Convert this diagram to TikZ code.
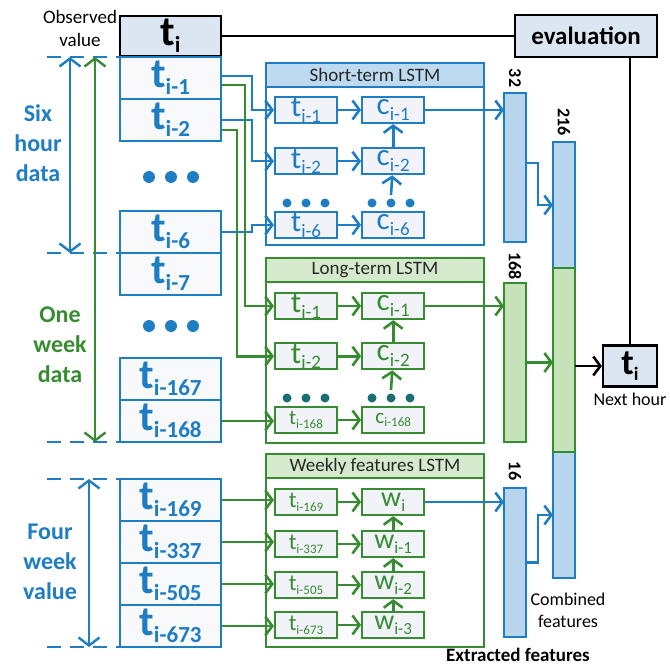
\documentclass[tikz,border=0pt]{standalone}
\usepackage{fontspec}
\setmainfont{Carlito}
\usepackage{tikz}
\usetikzlibrary{arrows.meta, positioning, calc}

\definecolor{cblue}{RGB}{30,125,195}
\definecolor{cgreen}{RGB}{55,140,50}
\definecolor{cteal}{RGB}{25,110,115}
\definecolor{bfill}{RGB}{183,214,238}
\definecolor{gfill}{RGB}{198,226,185}
\definecolor{hblue}{RGB}{189,218,241}
\definecolor{hgreen}{RGB}{213,234,205}
\definecolor{tfill}{RGB}{220,230,242}
\definecolor{cfill}{RGB}{241,243,248}

% letter with a large lowered index
\newcommand{\stx}[4]{{\fontsize{#1}{#1}\selectfont #3}{\fontsize{#2}{#2}\selectfont\raisebox{-0.3em}{#4}}}

\begin{document}
\begin{tikzpicture}[x=1pt, y=-1pt,
    inbox/.style={draw=cblue, line width=2pt, fill=cfill!50, minimum width=101pt, minimum height=42pt, inner sep=0pt, outer sep=0pt, text=cblue, font=\bfseries},
    obsbox/.style={draw=black, line width=2.2pt, fill=tfill, inner sep=0pt, font=\bfseries},
    lstm/.style={draw=#1, line width=2.2pt, fill=white, minimum width=218pt, inner sep=0pt, outer sep=0pt},
    head/.style={draw=#1, line width=2.2pt, minimum width=218pt, minimum height=24pt, inner sep=0pt, outer sep=0pt, anchor=north, text=black!85, font=\fontsize{19}{19}\selectfont},
    cell/.style={draw=#1, line width=2.2pt, fill=cfill, minimum width=62pt, minimum height=26pt, inner sep=0pt, text=#1},
    bar/.style={draw=cblue, line width=2.2pt, fill=bfill, minimum width=22pt, inner sep=0pt, outer sep=0pt},
    num/.style={rotate=-90, font=\fontsize{18}{18}\selectfont\bfseries},
    side/.style={align=center, font=\fontsize{24}{30}\selectfont\bfseries},
    note/.style={align=center, font=\fontsize{18}{22}\selectfont},
    dline/.style={draw=cblue, line width=2.2pt, dash pattern=on 14pt off 9pt},
    barr/.style={draw=cblue, line width=2.6pt, -{Straight Barb[length=7pt,width=19pt]}},
    garr/.style={draw=cgreen, line width=2.6pt, -{Straight Barb[length=7pt,width=19pt]}},
    karr/.style={draw=black, line width=2.6pt, -{Straight Barb[length=7pt,width=19pt]}},
    darr/.style={line width=2.4pt, {Straight Barb[length=8pt,width=21pt]}-{Straight Barb[length=8pt,width=21pt]}}
]
\useasboundingbox (0,0) rectangle (670,666);

% observed value and evaluation
\node[obsbox, minimum width=101pt, minimum height=40pt] (obs) at (170.5,36) {\stx{42}{23}{t}{i}};
\node[note, font=\fontsize{19}{23}\selectfont] (obslab) at (80,28) {Observed\\value};
\node[obsbox, minimum width=142pt, minimum height=42pt, font=\fontsize{25}{25}\selectfont\bfseries] (eval) at (586,36) {evaluation};

% input column
\node[inbox] (in1) at (170.5,78) {\stx{42}{23}{t}{i-1}};
\node[inbox, below=0pt of in1] (in2) {\stx{42}{23}{t}{i-2}};
\node[inbox] (in6) at (170.5,232) {\stx{42}{23}{t}{i-6}};
\node[inbox, below=0pt of in6] (in7) {\stx{42}{23}{t}{i-7}};
\node[inbox] (in167) at (170.5,379) {\stx{42}{23}{t}{i-167}};
\node[inbox, below=0pt of in167] (in168) {\stx{42}{23}{t}{i-168}};
\node[inbox] (in169) at (170.5,500) {\stx{42}{23}{t}{i-169}};
\node[inbox, below=0pt of in169] (in337) {\stx{42}{23}{t}{i-337}};
\node[inbox, below=0pt of in337] (in505) {\stx{42}{23}{t}{i-505}};
\node[inbox, below=0pt of in505] (in673) {\stx{42}{23}{t}{i-673}};
\fill[cblue] (149,177) circle (6pt) (171,177) circle (6pt) (193,177) circle (6pt);
\fill[cblue] (149,326) circle (6pt) (171,326) circle (6pt) (193,326) circle (6pt);

% ranges on the left
\node[side, text=cblue] (six) at (38,143) {Six\\hour\\data};
\node[side, text=cgreen] (week) at (60,345) {One\\week\\data};
\node[side, text=cblue] (four) at (50,562) {Four\\week\\value};
\coordinate (d1) at (47,57);
\coordinate (d2) at (47,253);
\coordinate (d3) at (47,442);
\coordinate (d4) at (47,479);
\coordinate (d5) at (47,647);
\draw[dline] (d1) -- (in1.north west);
\draw[dline] (d2) -- (in6.south west);
\draw[dline] (d3) -- (in168.south west);
\draw[dline] (d4) -- (in169.north west);
\draw[dline] (d5) -- (in673.south west);
\coordinate (six1) at (70,57);
\coordinate (six2) at (70,253);
\coordinate (wk1) at (95,57);
\coordinate (wk2) at (95,442);
\coordinate (fw1) at (89,479);
\coordinate (fw2) at (89,647);
\draw[darr, draw=cblue] (six1) -- (six2);
\draw[darr, draw=cgreen] (wk1) -- (wk2);
\draw[darr, draw=cblue] (fw1) -- (fw2);

% Short-term LSTM
\node[lstm=cblue, minimum height=182pt] (stm) at (375,154) {};
\node[head=cblue, fill=hblue] (stmh) at (stm.north) {Short-term LSTM};
\node[cell=cblue] (st1) at (306,110) {\stx{31}{19}{t}{i-1}};
\node[cell=cblue, right=23pt of st1] (sc1) {\stx{31}{19}{c}{i-1}};
\node[cell=cblue, below=23pt of st1] (st2) {\stx{31}{19}{t}{i-2}};
\node[cell=cblue, right=23pt of st2] (sc2) {\stx{31}{19}{c}{i-2}};
\node[cell=cblue] (st6) at (306,225) {\stx{31}{19}{t}{i-6}};
\node[cell=cblue, right=23pt of st6] (sc6) {\stx{31}{19}{c}{i-6}};
\fill[cblue] (287,203) circle (4.5pt) (306,203) circle (4.5pt) (325,203) circle (4.5pt);
\fill[cblue] (372,203) circle (4.5pt) (391,203) circle (4.5pt) (410,203) circle (4.5pt);
\coordinate (sdots) at (391,195);

% Long-term LSTM
\node[lstm=cgreen, minimum height=185pt] (ltm) at (375,350.5) {};
\node[head=cgreen, fill=hgreen] (ltmh) at (ltm.north) {Long-term LSTM};
\node[cell=cgreen] (lt1) at (306,306) {\stx{31}{19}{t}{i-1}};
\node[cell=cgreen, right=23pt of lt1] (lc1) {\stx{31}{19}{c}{i-1}};
\node[cell=cgreen, below=22pt of lt1] (lt2) {\stx{31}{19}{t}{i-2}};
\node[cell=cgreen, right=23pt of lt2] (lc2) {\stx{31}{19}{c}{i-2}};
\node[cell=cgreen] (lt168) at (306,420) {\stx{21}{13}{t}{i-168}};
\node[cell=cgreen, right=23pt of lt168] (lc168) {\stx{21}{13}{c}{i-168}};
\fill[cteal] (287,398) circle (4.5pt) (306,398) circle (4.5pt) (325,398) circle (4.5pt);
\fill[cteal] (372,398) circle (4.5pt) (391,398) circle (4.5pt) (410,398) circle (4.5pt);
\coordinate (ldots) at (391,390);

% Weekly features LSTM
\node[lstm=cgreen, minimum height=193pt] (wtm) at (375,550.5) {};
\node[head=cgreen, fill=hgreen] (wtmh) at (wtm.north) {Weekly features LSTM};
\node[cell=cgreen] (wt169) at (306,502) {\stx{23}{13}{t}{i-169}};
\node[cell=cgreen, right=23pt of wt169] (ww0) {\stx{28}{17}{w}{i}};
\node[cell=cgreen] (wt337) at (306,544) {\stx{23}{13}{t}{i-337}};
\node[cell=cgreen, right=23pt of wt337] (ww1) {\stx{28}{17}{w}{i-1}};
\node[cell=cgreen] (wt505) at (306,585) {\stx{23}{13}{t}{i-505}};
\node[cell=cgreen, right=23pt of wt505] (ww2) {\stx{28}{17}{w}{i-2}};
\node[cell=cgreen] (wt673) at (306,625) {\stx{23}{13}{t}{i-673}};
\node[cell=cgreen, right=23pt of wt673] (ww3) {\stx{28}{17}{w}{i-3}};

% extracted and combined features
\node[bar, minimum height=149pt] (b32) at (515,167.5) {};
\node[bar, draw=cgreen, fill=gfill, minimum height=159pt] (b168) at (515,362.5) {};
\node[bar, minimum height=149pt] (b16) at (515,562.5) {};
\node[bar, minimum height=126pt] (cb1) at (564,205) {};
\node[bar, minimum height=126pt] (cb3) at (564,515) {};
\node[bar, draw=cgreen, fill=gfill, minimum height=184pt] (cb2) at (564,360) {};
\node[num] (n32) at ($(b32.north)+(0,-15)$) {32};
\node[num] (n168) at ($(b168.north)+(0,-17)$) {168};
\node[num] (n16) at ($(b16.north)+(0,-17)$) {16};
\node[num] (n216) at ($(cb1.north)+(0,-20)$) {216};
\node[note] (comblab) at (568,610) {Combined\\features};
\node[note, font=\fontsize{19}{19}\selectfont\bfseries] (extlab) at (518,655) {Extracted features};

% next hour
\node[obsbox, minimum width=54pt, minimum height=41pt] (nxt) at (630,366) {\stx{36}{19}{t}{i}};
\node[note, below=2pt of nxt] (nxtlab) {Next hour};

% inputs to the LSTMs
\draw[barr] ($(in1.east)+(0,-2)$) -- ++(31,0) |- (st1.west);
\draw[barr] (in2.east) -- ++(31,0) |- (st2.west);
\draw[barr] (in6.east) -- ++(31,0) |- (st6.west);
\draw[garr] ($(in1.east)+(0,7)$) -- ++(24,0) |- (lt1.west);
\draw[garr] ($(in2.east)+(0,10)$) -- ++(16,0) |- (lt2.west);
\draw[garr] (in168.east) -- (in168.east -| lt168.west);
\draw[garr] (in169.east) -- (in169.east -| wt169.west);
\draw[garr] (in337.east) -- (in337.east -| wt337.west);
\draw[garr] (in505.east) -- (in505.east -| wt505.west);
\draw[garr] (in673.east) -- (in673.east -| wt673.west);

% inside the LSTMs
\draw[barr] (st1) -- (sc1);
\draw[barr] (st2) -- (sc2);
\draw[barr] (st6) -- (sc6);
\draw[barr] (sc2) -- (sc1);
\draw[barr] (sdots) -- (sc2);
\draw[garr] (lt1) -- (lc1);
\draw[garr] (lt2) -- (lc2);
\draw[garr] (lt168) -- (lc168);
\draw[garr] (lc2) -- (lc1);
\draw[garr] (ldots) -- (lc2);
\draw[garr] (wt169) -- (ww0);
\draw[garr] (wt337) -- (ww1);
\draw[garr] (wt505) -- (ww2);
\draw[garr] (wt673) -- (ww3);
\draw[garr] (ww1) -- (ww0);
\draw[garr] (ww2) -- (ww1);
\draw[garr] (ww3) -- (ww2);

% features
\draw[barr] (sc1) -- (sc1 -| b32.west);
\draw[garr] (lc1) -- (lc1 -| b168.west);
\draw[barr] (ww0) -- (ww0 -| b16.west);
\draw[barr] ($(b32.north east)+(0,70)$) -- ++(12,0) |- (cb1.west);
\draw[garr] (b168.east) -- (b168.east -| cb2.west);
\draw[barr] (b16.east) -- ++(12,0) |- (cb3.west);
\draw[karr] (cb2.east |- nxt.west) -- (nxt.west);

% evaluation
\draw[line width=2.2pt] (obs) -- (eval);
\draw[line width=2.2pt] (nxt.north |- eval.south) -- (nxt.north);

\end{tikzpicture}
\end{document}
